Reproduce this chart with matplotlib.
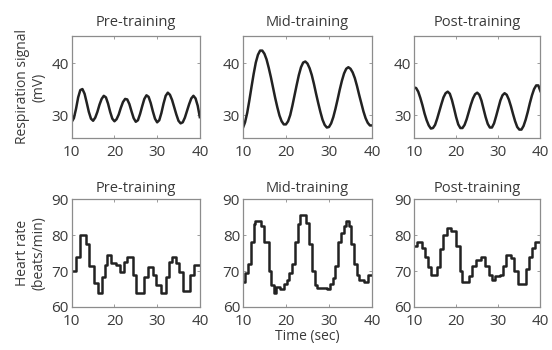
import numpy as np
import matplotlib
matplotlib.use("Agg")
import matplotlib.pyplot as plt

plt.rcParams["font.family"] = ["Open Sans", "DejaVu Sans"]

# respiration signal (mV), sampled every 0.5 s from 10 to 40 s
resp_time = np.arange(10, 40.01, 0.5)
resp_pre = [28.7, 29.4, 31.2, 33.4, 34.8, 35.0, 34.1, 32.4, 30.6, 29.3,
            28.9, 29.5, 30.6, 32.0, 33.1, 33.7, 33.4, 32.2, 30.6, 29.3,
            28.8, 29.2, 30.1, 31.4, 32.5, 33.1, 33.0, 32.1, 30.7, 29.4,
            28.7, 29.0, 30.2, 31.7, 33.1, 33.8, 33.5, 32.3, 30.7, 29.3,
            28.6, 29.0, 30.4, 32.2, 33.7, 34.3, 33.9, 32.9, 31.5, 30.1,
            28.9, 28.4, 28.6, 29.5, 30.8, 32.1, 33.2, 33.7, 33.2, 31.8,
            29.6]
resp_mid = [27.5, 28.6, 30.4, 32.8, 35.4, 37.9, 40.1, 41.6, 42.4, 42.4,
            41.8, 40.7, 39.1, 37.3, 35.3, 33.3, 31.5, 29.9, 28.8, 28.2,
            28.2, 28.8, 30.0, 31.8, 33.8, 35.8, 37.7, 39.2, 40.1, 40.3,
            39.9, 39.0, 37.7, 36.0, 34.1, 32.3, 30.6, 29.1, 28.1, 27.6,
            27.7, 28.4, 29.6, 31.2, 33.0, 34.9, 36.6, 38.0, 38.9, 39.2,
            38.9, 38.2, 37.1, 35.6, 33.9, 32.3, 30.7, 29.4, 28.5, 28.0,
            28.0]
resp_post = [35.3, 35.2, 34.5, 33.3, 31.9, 30.3, 29.0, 28.0, 27.4, 27.5,
             28.1, 29.3, 30.7, 32.1, 33.4, 34.2, 34.5, 34.1, 32.9, 31.3,
             29.6, 28.2, 27.5, 27.5, 28.1, 29.2, 30.6, 32.0, 33.2, 34.0,
             34.3, 33.9, 32.8, 31.2, 29.6, 28.3, 27.6, 27.6, 28.4, 29.8,
             31.3, 32.8, 33.8, 34.2, 33.9, 33.0, 31.7, 30.2, 28.8, 27.7,
             27.2, 27.2, 27.9, 29.1, 30.6, 32.3, 33.8, 35.0, 35.7, 35.7,
             34.6]

# heart rate (beats/min): step start times and levels
hr_pre_t = [10.0, 11.0, 12.0, 13.3, 14.1, 15.2, 16.1, 17.1, 17.7, 18.3,
            19.2, 20.4, 21.2, 22.2, 23.0, 24.3, 25.1, 27.0, 27.8, 29.0,
            29.8, 30.9, 32.0, 32.7, 33.4, 34.5, 35.2, 36.0, 37.6, 38.6]
hr_pre_v = [70, 74, 80, 77.4, 71.5, 66.6, 64, 68.4, 71.7, 74.4,
            72.2, 71.7, 69.6, 72.6, 74, 68.9, 64, 68.4, 71, 68.9,
            66, 63.9, 68.4, 72.6, 74, 72.2, 69.8, 64.3, 68.9, 71.7]
hr_mid_t = [10.0, 10.6, 11.2, 11.8, 12.6, 12.9, 14.3, 15.0, 16.0, 16.6,
            17.2, 17.8, 18.7, 19.6, 20.2, 20.8, 21.4, 22.0, 22.8, 23.3,
            24.7, 25.3, 26.1, 26.7, 27.3, 29.6, 30.3, 30.9, 31.4, 32.2,
            32.8, 33.5, 34.0, 34.7, 35.2, 35.9, 36.5, 37.0, 38.2, 39.1]
hr_mid_v = [67, 69.5, 72, 78, 83, 84, 82.5, 78, 70, 66,
            64, 65.5, 65, 66.5, 67.5, 69.5, 72, 78, 83, 85.5,
            83.5, 77.5, 70, 66, 65.3, 65, 66.5, 68, 71.5, 78,
            80.5, 82.5, 84, 82.5, 77.5, 72, 69, 67.5, 67, 69]
hr_post_t = [10.0, 10.8, 11.9, 12.7, 13.3, 14.1, 15.4, 16.2, 16.9, 17.9,
             18.8, 20.0, 20.8, 21.5, 23.1, 23.8, 24.6, 25.8, 26.9, 27.7,
             28.5, 29.2, 30.4, 31.2, 31.9, 33.1, 33.8, 34.6, 36.5, 37.3,
             38.1, 38.8]
hr_post_v = [77, 78, 76.5, 74, 71, 69, 71, 76, 80, 82,
             81, 77, 70, 67, 68.5, 71.5, 73, 74, 71.5, 69,
             67.5, 68.5, 69, 71.5, 74.5, 73.5, 70, 66.5, 70.5, 74,
             76.5, 78]

titles = ["Pre-training", "Mid-training", "Post-training"]
resp_series = [resp_pre, resp_mid, resp_post]
hr_series = [(hr_pre_t, hr_pre_v), (hr_mid_t, hr_mid_v), (hr_post_t, hr_post_v)]

text_col = "#3a3a3a"
frame_col = "#8c8c8c"
line_col = "#222222"

fig = plt.figure(figsize=(5.52, 3.5), dpi=100)

lefts = [0.130, 0.440, 0.750]
widths = [0.232, 0.234, 0.229]


def style_axes(ax):
    for sp in ax.spines.values():
        sp.set_color(frame_col)
        sp.set_linewidth(0.9)
    ax.tick_params(direction="in", length=2.5, width=0.6, color=frame_col,
                   top=True, right=True, labelsize=11, labelcolor=text_col)
    ax.tick_params(axis="x", pad=5)
    ax.tick_params(axis="y", pad=2)


for i in range(3):
    # respiration row
    ax = fig.add_axes([lefts[i], 0.606, widths[i], 0.291])
    ax.plot(resp_time, resp_series[i], color=line_col, lw=1.8)
    ax.set_xlim(10, 40)
    ax.set_ylim(25.6, 45.2)
    ax.set_xticks([10, 20, 30, 40])
    ax.set_yticks([30, 40])
    ax.set_title(titles[i], fontsize=10.5, color=text_col, pad=7)
    style_axes(ax)
    if i == 0:
        ax.set_ylabel("Respiration signal\n(mV)", fontsize=10, color=text_col,
                      linespacing=1.1, labelpad=4)

    # heart rate row
    t, v = hr_series[i]
    ax = fig.add_axes([lefts[i], 0.123, widths[i], 0.308])
    ax.step(list(t) + [40], list(v) + [v[-1]], where="post", color=line_col, lw=1.8)
    ax.set_xlim(10, 40)
    ax.set_ylim(60, 90)
    ax.set_xticks([10, 20, 30, 40])
    ax.set_yticks([60, 70, 80, 90])
    ax.set_title(titles[i], fontsize=10.5, color=text_col, pad=5)
    style_axes(ax)
    if i == 0:
        ax.set_ylabel("Heart rate\n(beats/min)", fontsize=10, color=text_col,
                      linespacing=1.1, labelpad=4)
    if i == 1:
        ax.set_xlabel("Time (sec)", fontsize=10, color=text_col, labelpad=0)

fig.savefig("out.png", dpi=100)
